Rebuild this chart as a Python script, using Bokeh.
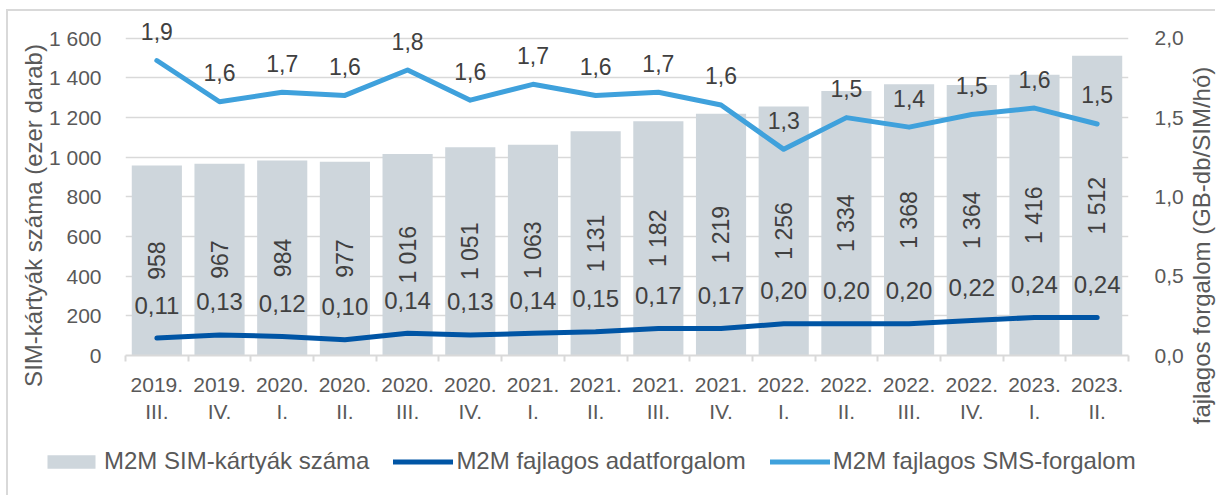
import math
from bokeh.plotting import figure
from bokeh.models import (ColumnDataSource, Range1d, LinearAxis, FixedTicker, Legend,
                          LegendItem, CustomJSTickFormatter)
from bokeh.core.properties import value
from bokeh.embed import file_html
from bokeh.resources import INLINE

# ---- data ----
categories = ["2019.\nIII.", "2019.\nIV.", "2020.\nI.", "2020.\nII.", "2020.\nIII.", "2020.\nIV.",
              "2021.\nI.", "2021.\nII.", "2021.\nIII.", "2021.\nIV.", "2022.\nI.", "2022.\nII.",
              "2022.\nIII.", "2022.\nIV.", "2023.\nI.", "2023.\nII."]
sim_cards = [958, 967, 984, 977, 1016, 1051, 1063, 1131, 1182, 1219, 1256, 1334, 1368, 1364, 1416, 1512]
data_traffic = [0.11, 0.13, 0.12, 0.10, 0.14, 0.13, 0.14, 0.15, 0.17, 0.17, 0.20, 0.20, 0.20, 0.22, 0.24, 0.24]
sms_traffic = [1.86, 1.60, 1.66, 1.64, 1.80, 1.61, 1.71, 1.64, 1.66, 1.58, 1.30, 1.50, 1.44, 1.52, 1.56, 1.46]
left_ticks = [0, 200, 400, 600, 800, 1000, 1200, 1400, 1600]
right_ticks = [0.0, 0.5, 1.0, 1.5, 2.0]

series_names = ["M2M SIM-kártyák száma", "M2M fajlagos adatforgalom", "M2M fajlagos SMS-forgalom"]
left_title = "SIM-kártyák száma (ezer darab)"
right_title = "fajlagos forgalom (GB-db/SIM/hó)"

# ---- styles ----
FONT = "Liberation Sans"
BAR = "#CED6DC"
DARK = "#0055A5"
LIGHT = "#3FA1DC"
TXT = "#595959"
LBL = "#404040"
GRID = "#D9D9D9"
PAGE_W, PAGE_H = 1217, 497

# headroom above the top tick so the top data labels are not clipped
LEFT_MAX = 1700
RIGHT_MAX = LEFT_MAX / 800.0

xs = list(range(len(categories)))
src = ColumnDataSource(dict(
    x=xs,
    sims=sim_cards,
    mid=[v / 2 for v in sim_cards],
    sim_lbl=[f"{v:,}".replace(",", " ") for v in sim_cards],
    data=data_traffic,
    data_lbl=[f"{v:.2f}".replace(".", ",") for v in data_traffic],
    sms=sms_traffic,
    sms_lbl=[f"{v:.1f}".replace(".", ",") for v in sms_traffic],
))

# ---------------- main chart ----------------
p = figure(width=1209, height=486, output_backend="svg", toolbar_location=None,
           x_range=Range1d(-0.5, len(categories) - 0.5), y_range=Range1d(0, LEFT_MAX),
           min_border_left=117, min_border_right=89, min_border_top=7, min_border_bottom=142)
p.styles = {"position": "absolute", "left": "6px", "top": "9px",
            "border-top": "2px solid #D9D9D9", "border-left": "2px solid #D9D9D9"}
p.extra_y_ranges = {"r": Range1d(0, RIGHT_MAX)}
p.outline_line_color = None
p.background_fill_color = "white"
p.border_fill_color = "white"

bars = p.vbar(x="x", top="sims", width=0.8, source=src, fill_color=BAR, line_color=None)
p.text(x="x", y="mid", text="sim_lbl", source=src, angle=math.pi / 2,
       text_align="center", text_baseline="middle", text_font=value(FONT),
       text_font_size="23px", text_color=LBL)

p.line(x="x", y="data", source=src, y_range_name="r", line_color=DARK,
       line_width=5, line_cap="round", line_join="round")
p.line(x="x", y="sms", source=src, y_range_name="r", line_color=LIGHT,
       line_width=5, line_cap="round", line_join="round")
p.text(x="x", y="data", text="data_lbl", source=src, y_range_name="r", y_offset=-33,
       text_align="center", text_baseline="middle", text_font=value(FONT),
       text_font_size="24px", text_color=LBL)
p.text(x="x", y="sms", text="sms_lbl", source=src, y_range_name="r", y_offset=-29,
       text_align="center", text_baseline="middle", text_font=value(FONT),
       text_font_size="23px", text_color=LBL)

# x axis: labels at category centres, tick marks between categories
xa = p.xaxis[0]
xa.ticker = FixedTicker(ticks=xs, minor_ticks=[i - 0.5 for i in range(len(categories) + 1)])
xa.major_label_overrides = {i: c for i, c in enumerate(categories)}
xa.major_tick_line_color = None
xa.major_tick_out = 0
xa.major_tick_in = 0
xa.minor_tick_line_color = GRID
xa.minor_tick_line_width = 2
xa.minor_tick_out = 6
xa.minor_tick_in = 0
xa.axis_line_color = GRID
xa.axis_line_width = 2
xa.major_label_standoff = 11
xa.major_label_text_font = FONT
xa.major_label_text_font_size = "21px"
xa.major_label_text_color = TXT
p.xgrid.visible = False

# left axis
ya = p.yaxis[0]
ya.ticker = FixedTicker(ticks=left_ticks)
ya.formatter = CustomJSTickFormatter(code="return Math.round(tick).toString().replace(/\\B(?=(\\d{3})+(?!\\d))/g, ' ');")
ya.axis_line_color = None
ya.major_tick_line_color = None
ya.minor_tick_line_color = None
ya.major_label_standoff = 18
ya.major_label_text_font = FONT
ya.major_label_text_font_size = "21px"
ya.major_label_text_color = TXT
p.ygrid.ticker = FixedTicker(ticks=left_ticks)
p.ygrid.grid_line_color = GRID
p.ygrid.grid_line_width = 1.5

# right axis
ra = LinearAxis(y_range_name="r", ticker=FixedTicker(ticks=right_ticks),
                formatter=CustomJSTickFormatter(code="return tick.toFixed(1).replace('.', ',');"))
ra.axis_line_color = None
ra.major_tick_line_color = None
ra.minor_tick_line_color = None
ra.major_label_standoff = 20
ra.major_label_text_font = FONT
ra.major_label_text_font_size = "21px"
ra.major_label_text_color = TXT
p.add_layout(ra, "right")

# ---------------- transparent overlay: axis titles + legend (page pixel coordinates) ----------------
ov = figure(width=PAGE_W, height=PAGE_H, output_backend="svg", toolbar_location=None,
            x_range=Range1d(0, PAGE_W), y_range=Range1d(PAGE_H, 0),
            x_axis_location=None, y_axis_location=None,
            min_border=0, min_border_left=0, min_border_right=0,
            min_border_top=0, min_border_bottom=0)
ov.styles = {"position": "absolute", "left": "0px", "top": "0px"}
ov.outline_line_color = None
ov.grid.visible = False
ov.background_fill_alpha = 0
ov.border_fill_alpha = 0

ov.text(x=[33], y=[215], text=[left_title], angle=math.pi / 2,
        text_align="center", text_baseline="middle", text_font=value(FONT),
        text_font_size="24px", text_color=TXT)
ov.text(x=[1201], y=[245], text=[right_title], angle=math.pi / 2,
        text_align="center", text_baseline="middle", text_font=value(FONT),
        text_font_size="24px", text_color=TXT)

# legend swatches (hidden renderers sharing the chart's styles)
lb = ov.vbar(x="x", top="sims", width=0.8, source=src, fill_color=BAR, line_color=None, visible=False)
ld = ov.line(x="x", y="data", source=src, line_color=DARK, line_width=5, line_cap="round", visible=False)
ls = ov.line(x="x", y="sms", source=src, line_color=LIGHT, line_width=5, line_cap="round", visible=False)
legend = Legend(items=[LegendItem(label=series_names[0], renderers=[lb]),
                       LegendItem(label=series_names[1], renderers=[ld]),
                       LegendItem(label=series_names[2], renderers=[ls])],
                orientation="horizontal", location=(41, 22),
                glyph_width=60, glyph_height=17, label_standoff=3, spacing=24,
                padding=0, margin=0, border_line_color=None, background_fill_alpha=0,
                label_text_font=FONT, label_text_font_size="24px", label_text_color=TXT)
ov.add_layout(legend)

with open("out.html", "w") as f:
    f.write(file_html([p, ov], INLINE))
